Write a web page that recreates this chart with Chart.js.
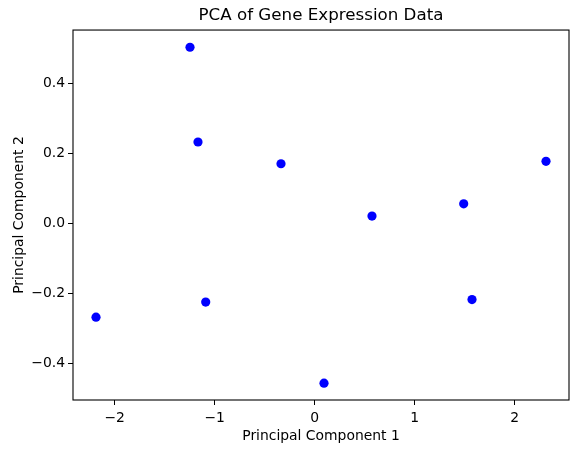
<!DOCTYPE html>
<html lang="en">
<head>
  <meta charset="UTF-8">
  <title>PCA of Gene Expression Data</title>
  <script src="https://cdn.jsdelivr.net/npm/chart.js"></script>
  <style>
    html, body { margin: 0; padding: 0; background: #fff; }
    canvas { display: block; }
  </style>
</head>
<body>
  <canvas id="chart-1" width="579" height="453"></canvas>

  <script>
    // points
    const pc1 = [-1.247, -1.167, -0.337, 2.313, 0.573, 1.49, -2.187, -1.09, 1.573, 0.093];
    const pc2 = [0.502, 0.232, 0.170, 0.177, 0.021, 0.056, -0.267, -0.224, -0.217, -0.455];
    const xTicks = [-2, -1, 0, 1, 2];
    const yTicks = [-0.4, -0.2, 0.0, 0.2, 0.4];
    const xRange = [-2.417, 2.543];
    const yRange = [-0.503, 0.551];

    const font = 'DejaVu Sans';
    const minus = (s) => s.replace('-', '\u2212');

    // matplotlib style box round the axes
    const frame = {
      id: 'frame',
      afterDraw(chart) {
        const { ctx, chartArea: a } = chart;
        ctx.save();
        ctx.strokeStyle = '#000';
        ctx.lineWidth = 1.1;
        ctx.strokeRect(a.left, a.top, a.right - a.left, a.bottom - a.top);
        ctx.restore();
      }
    };

    const ctx = document.getElementById('chart-1');
    new Chart(ctx, {
      type: 'scatter',
      data: {
        datasets: [{
          data: pc1.map((x, i) => ({ x: x, y: pc2[i] })),
          backgroundColor: '#0000ff',
          borderColor: '#0000ff',
          pointRadius: 4.6,
          borderWidth: 0
        }]
      },
      options: {
        responsive: false,
        animation: false,
        devicePixelRatio: 1,
        layout: { padding: { left: 0, right: 10, top: 0, bottom: 0 } },
        plugins: {
          legend: { display: false },
          tooltip: { enabled: false },
          title: {
            display: true,
            text: 'PCA of Gene Expression Data',
            fullSize: false,
            color: '#000',
            font: { family: font, size: 16.7, weight: 'normal' },
            padding: { top: 6, bottom: 4 }
          }
        },
        scales: {
          x: {
            type: 'linear',
            min: xRange[0],
            max: xRange[1],
            afterBuildTicks: (s) => { s.ticks = xTicks.map(v => ({ value: v })); },
            afterFit: (s) => { s.height = 53; },
            grid: { drawOnChartArea: false, drawTicks: true, tickLength: 5, color: '#000' },
            border: { display: false },
            ticks: {
              color: '#000',
              padding: 5,
              maxRotation: 0,
              font: { family: font, size: 13.9 },
              callback: (v) => minus(String(v))
            },
            title: {
              display: true,
              text: 'Principal Component 1',
              color: '#000',
              font: { family: font, size: 13.9 },
              padding: { top: 0, bottom: 8 }
            }
          },
          y: {
            type: 'linear',
            min: yRange[0],
            max: yRange[1],
            afterBuildTicks: (s) => { s.ticks = yTicks.map(v => ({ value: v })); },
            afterFit: (s) => { s.width = 73; },
            grid: { drawOnChartArea: false, drawTicks: true, tickLength: 5, color: '#000' },
            border: { display: false },
            ticks: {
              color: '#000',
              padding: 3,
              font: { family: font, size: 13.9 },
              callback: (v) => minus(Number(v).toFixed(1))
            },
            title: {
              display: true,
              text: 'Principal Component 2',
              color: '#000',
              font: { family: font, size: 13.9 },
              padding: { top: 11, bottom: 0 }
            }
          }
        }
      },
      plugins: [frame]
    });
  </script>
</body>
</html>
